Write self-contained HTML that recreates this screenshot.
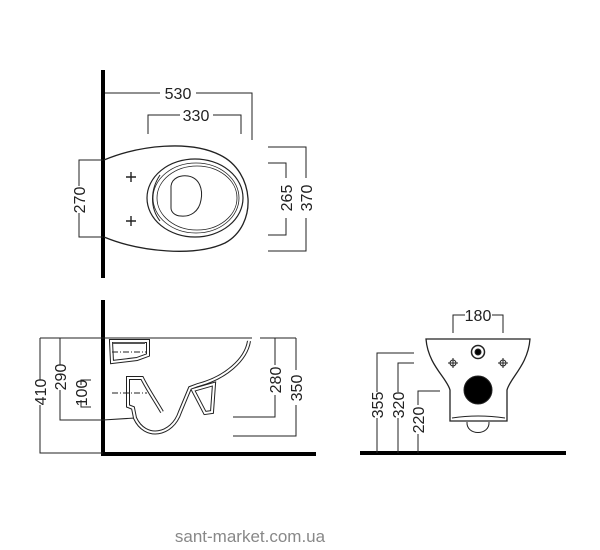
<!DOCTYPE html>
<html><head><meta charset="utf-8"><style>
html,body{margin:0;padding:0;background:#fff;}
svg{display:block;}
text{font-family:"Liberation Sans",sans-serif;font-size:16px;fill:#222;}
</style></head><body>
<svg width="600" height="550" viewBox="0 0 600 550" xmlns="http://www.w3.org/2000/svg">
<g fill="none" stroke="#222" stroke-width="1">
<!-- TOP VIEW -->
<line x1="103" y1="70" x2="103" y2="278" stroke="#000" stroke-width="4"/>
<polyline points="105,93 160,93"/><polyline points="196,93 252,93 252,140"/>
<polyline points="148,134 148,115 180,115"/><polyline points="213,115 241,115 241,134"/>
<path d="M104 160 C140 145 190 140 220 155 C255 172 258 225 225 243 C195 257 140 252 104 237" stroke-width="1.3"/>
<ellipse cx="195" cy="198" rx="48" ry="39" stroke-width="1.2"/>
<ellipse cx="196" cy="198" rx="43" ry="35" stroke-width="0.8"/>
<ellipse cx="197" cy="198" rx="40" ry="32" stroke-width="0.8"/>
<path d="M160 175 C150 190 150 208 160 221" />
<path d="M171 186 C172 178 180 175 188 176 C200 178 203 190 201 200 C199 212 190 217 181 216 C175 216 171 212 171 208 Z"/>
<path d="M126 177 h10 M131 172 v10 M126 221 h10 M131 216 v10" stroke-width="1.4"/>
<polyline points="103,160 79,160 79,186"/><polyline points="79,213 79,237 103,237"/>
<polyline points="268,163 286,163 286,178"/><polyline points="286,218 286,235 268,235"/>
<polyline points="268,147 306,147 306,178"/><polyline points="306,218 306,251 268,251"/>
<!-- SIDE VIEW -->
<line x1="103" y1="300" x2="103" y2="455" stroke="#000" stroke-width="4"/>
<line x1="101" y1="454" x2="316" y2="454" stroke="#000" stroke-width="4"/>
<line x1="40" y1="338" x2="252" y2="338"/>
<polyline points="40,338 40,380"/><polyline points="40,405 40,453 103,453"/>
<polyline points="60,338 60,365"/><polyline points="60,390 60,420 103,420 135,418"/>
<polyline points="91,380 81,380 81,385"/><polyline points="81,400 81,407 91,407"/>
<line x1="260" y1="338" x2="296" y2="338"/>
<polyline points="233,417 275,417 275,395"/><polyline points="275,365 275,338"/>
<polyline points="233,436 296,436 296,405"/><polyline points="296,370 296,338"/>
<g stroke="#222" stroke-width="4">
<path d="M249 341 C246 360 225 378 198 385 L190 388 L180 412 C172 436 145 440 135 418 L133 408 L128 406 L128 378 L142 378 C148 390 155 400 162 412"/>
<path d="M111 341 L148 341 L148 355 L137 359 L112 362 Z"/>
<path d="M193 390 L214 384 L212 412 L205 413 Z"/>
</g>
<g stroke="#fff" stroke-width="2">
<path d="M249 341 C246 360 225 378 198 385 L190 388 L180 412 C172 436 145 440 135 418 L133 408 L128 406 L128 378 L142 378 C148 390 155 400 162 412"/>
<path d="M111 341 L148 341 L148 355 L137 359 L112 362 Z"/>
<path d="M193 390 L214 384 L212 412 L205 413 Z"/>
</g>
<line x1="113" y1="343" x2="145" y2="343" stroke="#555" stroke-width="2"/>
<path d="M112 352 h35 M112 393 h35" stroke-dasharray="6 2 1 2"/>
<!-- FRONT VIEW -->
<line x1="360" y1="453" x2="566" y2="453" stroke="#000" stroke-width="4"/>
<polyline points="453,333 453,315 465,315"/><polyline points="492,315 503,315 503,333"/>
<path d="M426 339 L530 339 C528 365 510 378 507 390 L507 421 L450 421 L450 390 C447 378 428 365 426 339 Z" stroke-width="1.3"/>
<path d="M467 422 C466 436 490 436 489 422"/>
<path d="M452 418 Q478 414 505 418"/>
<circle cx="478" cy="390" r="14" fill="#000"/>
<circle cx="478" cy="352" r="6.5" stroke-width="1.5"/>
<circle cx="478" cy="352" r="3" fill="#000"/>
<circle cx="453" cy="363" r="3"/><path d="M448 363 h10 M453 358 v10"/>
<circle cx="503" cy="363" r="3"/><path d="M498 363 h10 M503 358 v10"/>
<polyline points="414,353 377,353 377,392"/><line x1="377" y1="418" x2="377" y2="453"/>
<polyline points="414,363 398,363 398,392"/><line x1="398" y1="418" x2="398" y2="453"/>
<polyline points="440,391 418,391 418,405"/><line x1="418" y1="434" x2="418" y2="453"/>
</g>
<text x="178" y="99" text-anchor="middle">530</text>
<text x="196" y="121" text-anchor="middle">330</text>
<text transform="translate(85,200) rotate(-90)" text-anchor="middle">270</text>
<text transform="translate(292,198) rotate(-90)" text-anchor="middle">265</text>
<text transform="translate(312,198) rotate(-90)" text-anchor="middle">370</text>
<text transform="translate(46,392) rotate(-90)" text-anchor="middle">410</text>
<text transform="translate(66,377) rotate(-90)" text-anchor="middle">290</text>
<text transform="translate(87,393) rotate(-90)" text-anchor="middle">100</text>
<text transform="translate(281,380) rotate(-90)" text-anchor="middle">280</text>
<text transform="translate(302,388) rotate(-90)" text-anchor="middle">350</text>
<text x="478" y="321" text-anchor="middle">180</text>
<text transform="translate(383,405) rotate(-90)" text-anchor="middle">355</text>
<text transform="translate(404,405) rotate(-90)" text-anchor="middle">320</text>
<text transform="translate(424,420) rotate(-90)" text-anchor="middle">220</text>
<text x="250" y="542" text-anchor="middle" style="font-size:17px;fill:#888">sant-market.com.ua</text>
</svg>
</body></html>
